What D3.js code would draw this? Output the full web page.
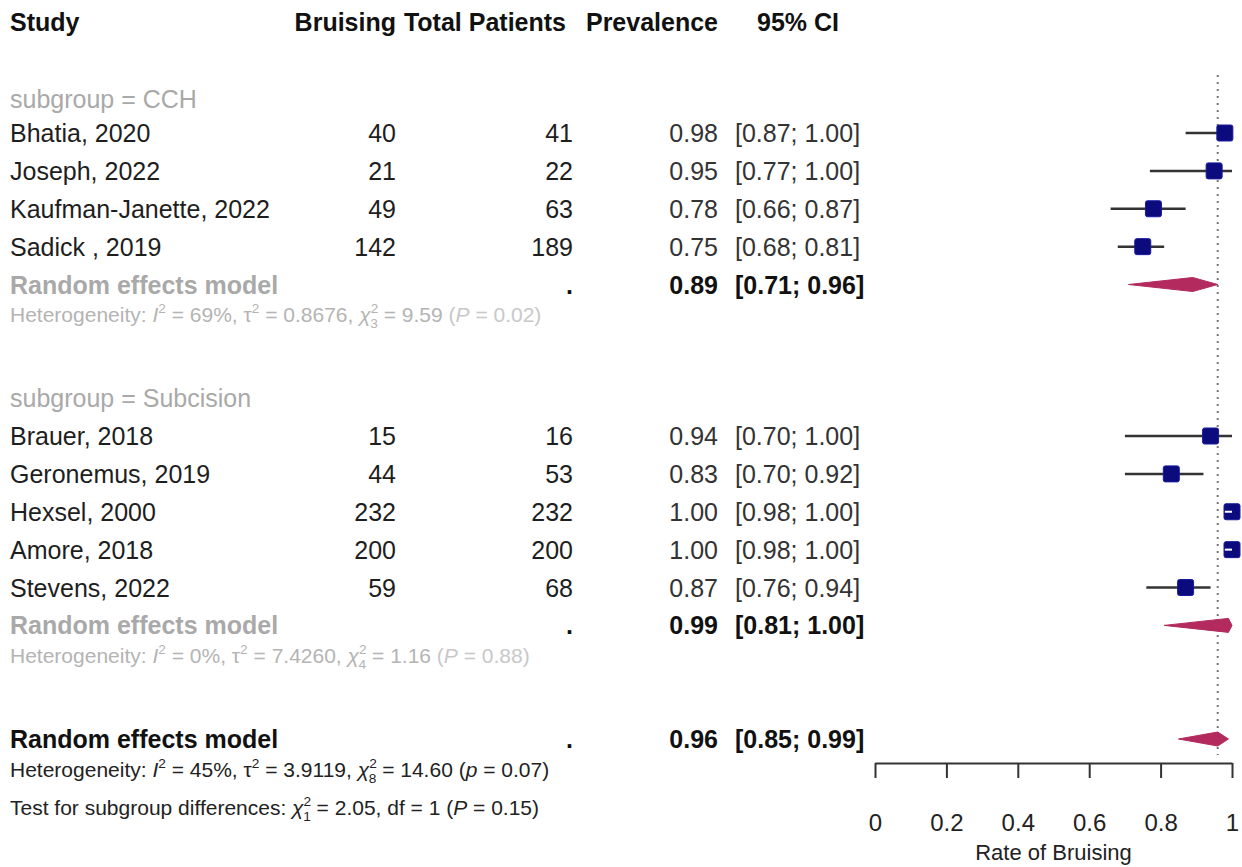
<!DOCTYPE html>
<html>
<head>
<meta charset="utf-8">
<script src="https://d3js.org/d3.v7.min.js"></script>
<style>
  body { margin: 0; background: #fff; }
  svg text { font-family: "Liberation Sans", Arial, sans-serif; }
</style>
</head>
<body>
<div id="chart"></div>
<script>
// study level data
var studies = ["Bhatia, 2020", "Joseph, 2022", "Kaufman-Janette, 2022", "Sadick , 2019",
               "Brauer, 2018", "Geronemus, 2019", "Hexsel, 2000", "Amore, 2018", "Stevens, 2022"];
var studyGroup = ["CCH", "CCH", "CCH", "CCH",
                  "Subcision", "Subcision", "Subcision", "Subcision", "Subcision"];
var bruising = [40, 21, 49, 142, 15, 44, 232, 200, 59];
var totalPatients = [41, 22, 63, 189, 16, 53, 232, 200, 68];
var prevalence = [0.98, 0.95, 0.78, 0.75, 0.94, 0.83, 1.00, 1.00, 0.87];
var ciLower = [0.87, 0.77, 0.66, 0.68, 0.70, 0.70, 0.98, 0.98, 0.76];
var ciUpper = [1.00, 1.00, 0.87, 0.81, 1.00, 0.92, 1.00, 1.00, 0.94];

// subgroup pooled estimates
var groups = ["CCH", "Subcision"];
var groupEst = [0.89, 0.99];
var groupLower = [0.71, 0.81];
var groupUpper = [0.96, 1.00];
var groupI2 = ["69%", "0%"];
var groupTau2 = ["0.8676", "7.4260"];
var groupChi2 = ["9.59", "1.16"];
var groupDf = ["3", "4"];
var groupP = ["0.02", "0.88"];

// overall pooled estimate
var overallEst = 0.96, overallLower = 0.85, overallUpper = 0.99;
var overallHet = { i2: "45%", tau2: "3.9119", chi2: "14.60", df: "8", p: "0.07" };
var subgroupTest = { chi2: "2.05", df: "1", p: "0.15" };

var xTicks = [0, 0.2, 0.4, 0.6, 0.8, 1];
var xTickLabels = ["0", "0.2", "0.4", "0.6", "0.8", "1"];
var xTitle = "Rate of Bruising";

var width = 1242, height = 867;

var svg = d3.select("#chart").append("svg")
    .attr("width", width)
    .attr("height", height);

// row index -> vertical centre
var y = d3.scaleLinear().domain([3, 19]).range([133, 739]);
// effect scale for the plot panel
var x = d3.scaleLinear().domain([0, 1]).range([875, 1232]);

var fmt = d3.format(".2f");
var colStudy = 10, colBruising = 396, colTotal = 573, colPrev = 718, colCI = 735;
var grey = "#a9a9a9", textCol = "#1e1e1e";

// build row layout
var rows = [];
var r = 2;
groups.forEach(function (g, gi) {
    rows.push({ type: "sub", row: r++, group: g });
    studies.forEach(function (s, i) {
        if (studyGroup[i] === g) rows.push({ type: "study", row: r++, i: i });
    });
    rows.push({ type: "re", row: r++, gi: gi });
    rows.push({ type: "het", row: r++, gi: gi });
    r++;
});
var overallRow = r;

function txt(xp, yp, s, anchor, opts) {
    opts = opts || {};
    return svg.append("text")
        .attr("x", xp).attr("y", yp).attr("dy", "0.36em")
        .attr("text-anchor", anchor || "start")
        .attr("font-size", opts.size || 25)
        .attr("font-weight", opts.bold ? "bold" : "normal")
        .attr("fill", opts.fill || textCol)
        .text(s);
}

// rich text with super / subscripts
function rich(xp, yp, parts, size, fill) {
    var t = svg.append("text").attr("x", xp).attr("y", yp).attr("dy", "0.36em")
        .attr("font-size", size).attr("fill", fill);
    var shift = 0;
    parts.forEach(function (p) {
        var target = p.sup ? -9 : (p.sub ? 6 : 0);
        var ts = t.append("tspan").text(p.t).attr("dy", target - shift);
        shift = target;
        if (p.dx) ts.attr("dx", p.dx);
        if (p.sup || p.sub) ts.attr("font-size", size * 0.65);
        if (p.it) ts.attr("font-style", "italic");
        if (p.fill) ts.attr("fill", p.fill);
    });
    return t;
}

function hetParts(i2, tau2, chi2, df, p, pLetter, pFill) {
    return [
        { t: "Heterogeneity: " }, { t: "I", it: true }, { t: "2", sup: true },
        { t: " = " + i2 + ", τ" }, { t: "2", sup: true },
        { t: " = " + tau2 + ", " }, { t: "χ", it: true }, { t: "2", sup: true }, { t: df, sub: true, dx: -8 },
        { t: " = " + chi2 + " " },
        { t: "(", fill: pFill }, { t: pLetter, it: true, fill: pFill }, { t: " = " + p + ")", fill: pFill }
    ];
}

// header
var hy = 22;
txt(colStudy, hy, "Study", "start", { bold: true, fill: "#111" });
txt(colBruising, hy, "Bruising", "end", { bold: true, fill: "#111" });
txt(566, hy, "Total Patients", "end", { bold: true, fill: "#111" });
txt(colPrev, hy, "Prevalence", "end", { bold: true, fill: "#111" });
txt(798, hy, "95% CI", "middle", { bold: true, fill: "#111" });

// reference line at the overall estimate
svg.append("line")
    .attr("x1", x(overallEst)).attr("x2", x(overallEst))
    .attr("y1", 75).attr("y2", 755)
    .attr("stroke", "#777").attr("stroke-width", 2)
    .attr("stroke-dasharray", "2,5");

var sq = 16, diaH = 7;
var navy = "#0b0b7d", crimson = "#b32a5e";

function diamond(cy, est, lo, hi) {
    var pts = [[x(lo), cy], [x(est), cy - diaH], [x(hi), cy], [x(est), cy + diaH]];
    svg.append("polygon").attr("points", pts.map(function (p) { return p.join(","); }).join(" "))
        .attr("fill", crimson).attr("stroke", crimson).attr("stroke-width", 1);
}

rows.forEach(function (d) {
    var cy = y(d.row);
    if (d.type === "sub") {
        txt(colStudy, d.row === 2 ? cy + 4 : cy, "subgroup = " + d.group, "start", { fill: grey });
    } else if (d.type === "study") {
        var i = d.i;
        txt(colStudy, cy, studies[i]);
        txt(colBruising, cy, bruising[i], "end");
        txt(colTotal, cy, totalPatients[i], "end");
        txt(colPrev, cy, fmt(prevalence[i]), "end", { fill: "#333" });
        txt(colCI, cy, "[" + fmt(ciLower[i]) + "; " + fmt(ciUpper[i]) + "]", "start", { fill: "#333" });
        var inside = x(ciUpper[i]) - x(ciLower[i]) < sq;
        if (!inside) {
            svg.append("line")
                .attr("x1", x(ciLower[i])).attr("x2", x(ciUpper[i]))
                .attr("y1", cy).attr("y2", cy)
                .attr("stroke", "#333").attr("stroke-width", 2.5);
        }
        svg.append("rect")
            .attr("x", x(prevalence[i]) - sq / 2).attr("y", cy - sq / 2)
            .attr("width", sq).attr("height", sq).attr("rx", 2)
            .attr("fill", navy).attr("stroke", "#1a1aa0").attr("stroke-width", 1);
        if (inside) {
            svg.append("line")
                .attr("x1", x(ciLower[i])).attr("x2", x(ciUpper[i]))
                .attr("y1", cy).attr("y2", cy)
                .attr("stroke", "#fff").attr("stroke-width", 2);
        }
    } else if (d.type === "re") {
        var gi = d.gi;
        txt(colStudy, cy, "Random effects model", "start", { bold: true, fill: grey });
        txt(colTotal, cy, ".", "end", { bold: true, fill: "#111" });
        txt(colPrev, cy, fmt(groupEst[gi]), "end", { bold: true, fill: "#111" });
        txt(colCI, cy, "[" + fmt(groupLower[gi]) + "; " + fmt(groupUpper[gi]) + "]", "start", { bold: true, fill: "#111" });
        diamond(cy, groupEst[d.gi], groupLower[d.gi], groupUpper[d.gi]);
    } else if (d.type === "het") {
        rich(colStudy, cy, hetParts(groupI2[d.gi], groupTau2[d.gi], groupChi2[d.gi], groupDf[d.gi],
            groupP[d.gi], "P", "#c8c8c8"), 21, "#b4b4b4");
    }
});

// overall
var oy = y(overallRow);
txt(colStudy, oy, "Random effects model", "start", { bold: true, fill: "#111" });
txt(colTotal, oy, ".", "end", { bold: true, fill: "#111" });
txt(colPrev, oy, fmt(overallEst), "end", { bold: true, fill: "#111" });
txt(colCI, oy, "[" + fmt(overallLower) + "; " + fmt(overallUpper) + "]", "start", { bold: true, fill: "#111" });
diamond(oy, overallEst, overallLower, overallUpper);

rich(colStudy, y(overallRow + 1), hetParts(overallHet.i2, overallHet.tau2, overallHet.chi2,
    overallHet.df, overallHet.p, "p", "#222"), 21, "#222");
rich(colStudy, y(overallRow + 2), [
    { t: "Test for subgroup differences: " }, { t: "χ", it: true }, { t: "2", sup: true },
    { t: subgroupTest.df, sub: true, dx: -8 },
    { t: " = " + subgroupTest.chi2 + ", df = " + subgroupTest.df + " (" },
    { t: "P", it: true }, { t: " = " + subgroupTest.p + ")" }
], 21, "#222");

// x axis
var axisY = 763;
var axis = svg.append("g")
    .attr("transform", "translate(0," + axisY + ")")
    .call(d3.axisBottom(x).tickValues(xTicks)
        .tickFormat(function (d, i) { return xTickLabels[i]; })
        .tickSize(15).tickPadding(36).tickSizeOuter(0));
axis.select(".domain").attr("stroke", "#333").attr("stroke-width", 2);
axis.selectAll(".tick line").attr("stroke", "#333").attr("stroke-width", 2);
axis.selectAll(".tick text").attr("font-size", 24).attr("fill", "#222")
    .attr("font-family", "Liberation Sans, Arial, sans-serif");

txt(x(0.5), 852, xTitle, "middle", { size: 22, fill: "#222" });
</script>
</body>
</html>
